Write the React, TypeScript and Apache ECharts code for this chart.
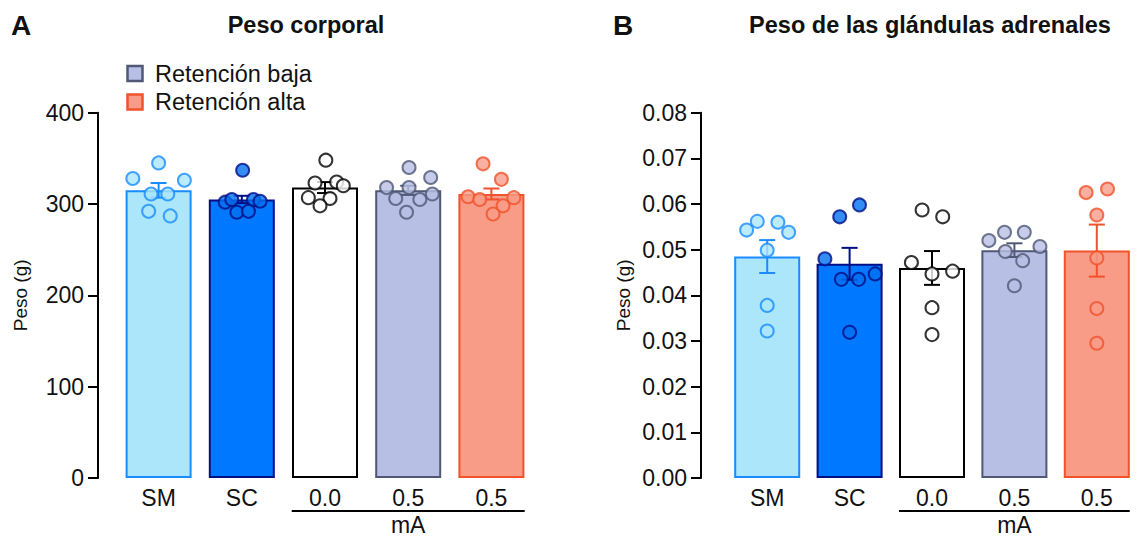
import React, { useEffect, useRef } from "react";
import * as echarts from "echarts";

const categories = ["SM", "SC", "0.0", "0.5", "0.5"];
const legendNames = ["Retención baja", "Retención alta"];
const bracketLabel = "mA";

const bodyMean = [315, 305, 318, 315, 311];
const bodySem = [8, 4, 6, 5, 6];
const bodyPoints = [
  [345, 328, 326, 311, 311, 292, 287],
  [337, 302, 305, 305, 303, 291, 292],
  [348, 323, 324, 320, 307, 306, 298],
  [340, 329, 318, 318, 311, 306, 305, 291],
  [344, 327, 308, 305, 307, 298, 289],
];
const bodyJitter = [
  [0, -0.31, 0.31, -0.09, 0.11, -0.12, 0.14],
  [0.01, -0.2, -0.12, 0.14, 0.22, -0.06, 0.08],
  [0.01, -0.12, 0.14, 0.22, -0.2, 0.06, -0.06],
  [0.01, 0.27, -0.26, 0.01, 0.29, -0.15, 0.14, -0.02],
  [-0.1, 0.12, -0.28, -0.14, 0.27, 0.14, 0.02],
];

const adrenalMean = [0.0485, 0.0469, 0.046, 0.0499, 0.0498];
const adrenalSem = [0.0036, 0.0035, 0.0037, 0.0015, 0.0057];
const adrenalPoints = [
  [0.0543, 0.0562, 0.056, 0.0538, 0.0499, 0.0378, 0.0322],
  [0.0598, 0.0572, 0.048, 0.0435, 0.0435, 0.0447, 0.0319],
  [0.0587, 0.0572, 0.0472, 0.0447, 0.0453, 0.0373, 0.0314],
  [0.0538, 0.0538, 0.052, 0.0507, 0.0496, 0.0476, 0.0421],
  [0.0625, 0.0633, 0.0576, 0.0482, 0.0371, 0.0295],
];
const adrenalJitter = [
  [-0.25, -0.12, 0.13, 0.26, 0, 0, 0],
  [0.12, -0.12, -0.3, -0.1, 0.11, 0.31, 0],
  [-0.12, 0.13, -0.25, 0, 0.25, 0, 0],
  [-0.12, 0.12, -0.31, 0.31, -0.11, 0.1, 0],
  [-0.13, 0.13, 0, 0, 0, 0],
];

const fills = ["#abe6fa", "#0078ff", "#ffffff", "#b8bfe4", "#f89c88"];
const strokes = ["#1a8cff", "#000f85", "#000000", "#4f5976", "#f0522b"];
const pointFills = ["#abe6fa", "#0070f0", "#ffffff", "#b8bfe4", "#f89c88"];

const FONT = "'Liberation Sans', Arial, Helvetica, sans-serif";
const TXT = "#111111";

function barData(means: number[]) {
  return means.map((v, i) => ({
    value: v,
    itemStyle: { color: fills[i], borderColor: strokes[i], borderWidth: 2 },
  }));
}

function pointData(points: number[][], jitter: number[][]) {
  const out: any[] = [];
  points.forEach((arr, i) => {
    arr.forEach((v, k) => {
      out.push({
        value: [i + jitter[i][k], v],
        itemStyle: { color: pointFills[i], borderColor: strokes[i], borderWidth: 2 },
      });
    });
  });
  return out;
}

function errRender(params: any, api: any) {
  const i = api.value(0);
  const m = api.value(1);
  const s = api.value(2);
  const top = api.coord([i, m + s]);
  const bot = api.coord([i, m - s]);
  const cap = 8;
  const style = { stroke: strokes[i], lineWidth: 2 };
  return {
    type: "group",
    children: [
      { type: "line", shape: { x1: top[0], y1: top[1], x2: bot[0], y2: bot[1] }, style },
      { type: "line", shape: { x1: top[0] - cap, y1: top[1], x2: top[0] + cap, y2: top[1] }, style },
      { type: "line", shape: { x1: bot[0] - cap, y1: bot[1], x2: bot[0] + cap, y2: bot[1] }, style },
    ],
  };
}

function yAxisCfg(grid: number, offset: number, max: number, interval: number, fmt: (v: number) => string) {
  return {
    type: "value",
    gridIndex: grid,
    min: 0,
    max,
    interval,
    offset,
    name: "Peso (g)",
    nameLocation: "middle",
    nameGap: 68,
    nameTextStyle: { fontSize: 19, color: TXT, fontFamily: FONT },
    axisLine: { show: true, onZero: false, lineStyle: { color: "#000", width: 2 } },
    axisTick: { show: true, length: 10, lineStyle: { color: "#000", width: 2 } },
    axisLabel: { fontSize: 23, color: TXT, fontFamily: FONT, margin: 14, formatter: fmt },
    splitLine: { show: false },
  };
}

function catAxis(grid: number) {
  return {
    type: "category",
    gridIndex: grid,
    data: categories,
    axisLine: { show: false, onZero: false },
    axisTick: { show: false },
    axisLabel: { fontSize: 23, color: TXT, fontFamily: FONT, margin: 8 },
  };
}

function valAxis(grid: number) {
  return { type: "value", gridIndex: grid, min: -0.5, max: 4.5, show: false };
}

export default function App() {
  const ref = useRef<HTMLDivElement>(null);
  useEffect(() => {
    if (!ref.current) return;
    const chart = echarts.init(ref.current, undefined, { renderer: "svg" });
    const option: any = {
      animation: false,
      backgroundColor: "#ffffff",
      grid: [
        { left: 117, top: 112.7, width: 416, height: 365.3 },
        { left: 726, top: 112.7, width: 421, height: 365.3 },
      ],
      xAxis: [catAxis(0), valAxis(0), catAxis(1), valAxis(1)],
      yAxis: [
        yAxisCfg(0, 19, 400, 100, (v: number) => String(v)),
        yAxisCfg(1, 25, 0.08, 0.01, (v: number) => v.toFixed(2)),
      ],
      series: [
        { type: "bar", xAxisIndex: 0, yAxisIndex: 0, barWidth: 66, data: barData(bodyMean), z: 2 },
        {
          type: "custom",
          xAxisIndex: 0,
          yAxisIndex: 0,
          renderItem: errRender,
          data: bodyMean.map((m, i) => [i, m, bodySem[i]]),
          z: 3,
        },
        {
          type: "scatter",
          xAxisIndex: 1,
          yAxisIndex: 0,
          symbol: "circle",
          symbolSize: 13,
          data: pointData(bodyPoints, bodyJitter),
          z: 4,
        },
        { type: "bar", xAxisIndex: 2, yAxisIndex: 1, barWidth: 66, data: barData(adrenalMean), z: 2 },
        {
          type: "custom",
          xAxisIndex: 2,
          yAxisIndex: 1,
          renderItem: errRender,
          data: adrenalMean.map((m, i) => [i, m, adrenalSem[i]]),
          z: 3,
        },
        {
          type: "scatter",
          xAxisIndex: 3,
          yAxisIndex: 1,
          symbol: "circle",
          symbolSize: 13,
          data: pointData(adrenalPoints, adrenalJitter),
          z: 4,
        },
      ],
    };
    chart.setOption(option);

    const graphics: any[] = [];
    const addText = (text: string, x: number, y: number, size: number, bold: boolean, align = "center") => {
      graphics.push({
        type: "text",
        x,
        y,
        style: {
          text,
          fontSize: size,
          fontWeight: bold ? "bold" : "normal",
          fontFamily: FONT,
          fill: TXT,
          align,
          verticalAlign: "middle",
        },
      });
    };
    addText("A", 11, 25, 28, true, "left");
    addText("B", 613, 25, 28, true, "left");
    addText("Peso corporal", 306, 25, 23.5, true);
    addText("Peso de las glándulas adrenales", 930, 25, 23.5, true);

    // legend
    const legendFill = [fills[3], fills[4]];
    const legendStroke = [strokes[3], strokes[4]];
    const legendY = [73.5, 102];
    legendNames.forEach((n, k) => {
      graphics.push({
        type: "rect",
        shape: { x: 127.5, y: legendY[k] - 7.5, width: 15, height: 15 },
        style: { fill: legendFill[k], stroke: legendStroke[k], lineWidth: 2.5 },
      });
      addText(n, 155, legendY[k], 23.5, false, "left");
    });

    // brackets under the current groups
    [
      { xi: 1, yi: 0 },
      { xi: 3, yi: 1 },
    ].forEach(({ xi, yi }) => {
      const xl = chart.convertToPixel({ xAxisIndex: xi } as any, 2 - 0.4) as unknown as number;
      const xr = chart.convertToPixel({ xAxisIndex: xi } as any, 4 + 0.4) as unknown as number;
      const xm = chart.convertToPixel({ xAxisIndex: xi } as any, 3) as unknown as number;
      const y0 = chart.convertToPixel({ yAxisIndex: yi } as any, 0) as unknown as number;
      graphics.push({
        type: "line",
        shape: { x1: xl, y1: y0 + 33, x2: xr, y2: y0 + 33 },
        style: { stroke: "#000", lineWidth: 2 },
      });
      addText(bracketLabel, xm, y0 + 47, 23, false);
    });

    chart.setOption({ graphic: graphics });
    return () => chart.dispose();
  }, []);
  return (
    <div
      ref={ref}
      style={{ position: "absolute", left: 0, top: 0, width: 1138, height: 540, background: "#fff" }}
    />
  );
}
